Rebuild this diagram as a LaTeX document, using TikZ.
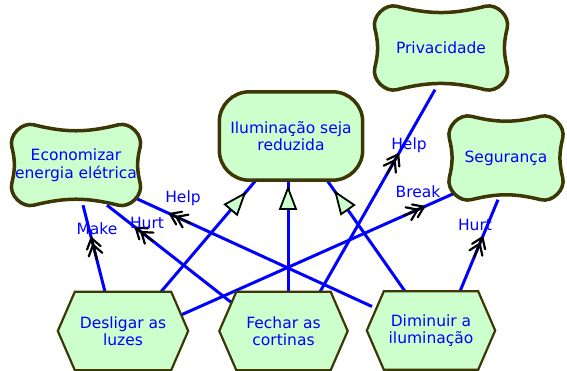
\documentclass[tikz,border=0pt]{standalone}
\usepackage{fontspec}
\setmainfont{DejaVu Sans}
\usetikzlibrary{calc,decorations.markings}
\definecolor{nodefill}{RGB}{204,255,204}
\definecolor{nodeline}{RGB}{60,55,5}
\definecolor{linkblue}{RGB}{0,0,255}
\pgfdeclarelayer{edgelayer}
\pgfdeclarelayer{shapelayer}
\pgfsetlayers{edgelayer,shapelayer,main}
\newcommand\pillow[2][22]{%
  \draw[softline] ($(#2.north west)+(#1,0)$)
    to[out=-14,in=194] ($(#2.north east)+(-#1,0)$)
    to[out=14,in=76] ($(#2.north east)+(0,-#1)$)
    to[out=256,in=104] ($(#2.south east)+(0,#1)$)
    to[out=284,in=346] ($(#2.south east)+(-#1,0)$)
    to[out=166,in=14] ($(#2.south west)+(#1,0)$)
    to[out=194,in=256] ($(#2.south west)+(0,#1)$)
    to[out=76,in=284] ($(#2.north west)+(0,-#1)$)
    to[out=104,in=166] ($(#2.north west)+(#1,0)$) -- cycle;}
\newcommand\hexshape[1]{%
  \draw[hexline] (#1.west) -- ($(#1.north west)+(17,0)$) -- ($(#1.north east)+(-17,0)$)
    -- (#1.east) -- ($(#1.south east)+(-17,0)$) -- ($(#1.south west)+(17,0)$) -- cycle;}
\newcommand\contribtip{%
  \draw[black,line width=2.2pt,line cap=round]
    (0,0) -- (-22,0) (0,0) -- (-10,7) (0,0) -- (-10,-7)
    (-7,0) -- (-17,7) (-7,0) -- (-17,-7);}
\newcommand\meanstip{%
  \filldraw[fill=nodefill,draw=black,line width=1.8pt,line join=miter]
    (0,0) -- (-21,8) -- (-21,-8) -- cycle;}
\tikzset{
  txt/.style={font=\fontsize{15.5}{17.5}\selectfont, text=linkblue, align=center, inner sep=0pt},
  goalbox/.style={txt, draw=none, shape=rectangle},
  softline/.style={draw=nodeline, fill=nodefill, line width=3.5pt},
  hexline/.style={draw=nodeline, fill=nodefill, line width=2.2pt, line join=miter},
  link/.style={draw=linkblue, line width=3pt},
  contrib/.style={postaction={decorate,decoration={markings,mark=at position #1 with {\contribtip}}}},
  meansend/.style={postaction={decorate,decoration={markings,mark=at position #1 with {\meanstip}}}},
  lbl/.style={txt}
}
\begin{document}
\begin{tikzpicture}[x=1pt,y=1pt]
\useasboundingbox (0,0) rectangle (567,371);
% nodes
\node[goalbox, minimum width=128pt, minimum height=80pt] (eco) at (76,206) {Economizar\\energia elétrica};
\node[goalbox, minimum width=143pt, minimum height=88pt] (ilum) at (291,235) {Iluminação seja\\reduzida};
\node[goalbox, minimum width=132pt, minimum height=83pt] (priv) at (441,323) {Privacidade};
\node[goalbox, minimum width=113pt, minimum height=83pt] (seg) at (506,213) {Segurança};
\node[goalbox, minimum width=130pt, minimum height=78pt] (desl) at (123,40) {Desligar as\\luzes};
\node[goalbox, minimum width=128pt, minimum height=78pt] (fech) at (283.5,40) {Fechar as\\cortinas};
\node[goalbox, minimum width=128pt, minimum height=78pt] (dimi) at (431,40.5) {Diminuir a\\iluminação};
% labels
\node[lbl] (lmake) at (97,142) {Make};
\node[lbl] (lhurt1) at (147,148) {Hurt};
\node[lbl] (lhelp1) at (183,173) {Help};
\node[lbl] (lhelp2) at (409,226) {Help};
\node[lbl] (lbreak) at (418,179) {Break};
\node[lbl] (lhurt2) at (475,146) {Hurt};
% shapes
\begin{pgfonlayer}{shapelayer}
\pillow{eco}
\pillow{priv}
\pillow{seg}
\draw[softline, rounded corners=30pt] (ilum.south west) rectangle (ilum.north east);
\hexshape{desl}
\hexshape{fech}
\hexshape{dimi}
\end{pgfonlayer}
% edges
\begin{pgfonlayer}{edgelayer}
\draw[link,contrib=0.62] ($(desl.north)+(-18,0)$) -- ($(eco.south)+(7,0)$);
\draw[link,contrib=0.77] ($(fech.center)+(-51.5,28)$) -- ($(eco.south)+(31,0)$);
\draw[link,contrib=0.845] ($(dimi.center)+(-59,24)$) -- ($(eco.center)+(57,-32)$);
\draw[link,meansend=0.88] ($(desl.north)+(38,0)$) -- ($(ilum.south)+(-35,0)$);
\draw[link,meansend=0.93] ($(fech.north)+(4.5,0)$) -- ($(ilum.south)+(-3,0)$);
\draw[link,meansend=0.89] ($(dimi.north)+(-26,0)$) -- ($(ilum.south)+(36,0)$);
\draw[link,contrib=0.68] ($(fech.north)+(36.5,0)$) -- ($(priv.south)+(-6,0)$);
\draw[link,contrib=0.887] ($(desl.center)+(58,16)$) -- ($(seg.center)+(-51,-35)$);
\draw[link,contrib=0.59] ($(dimi.north)+(29,0)$) -- ($(seg.south)+(-8,0)$);
\end{pgfonlayer}
\end{tikzpicture}
\end{document}
